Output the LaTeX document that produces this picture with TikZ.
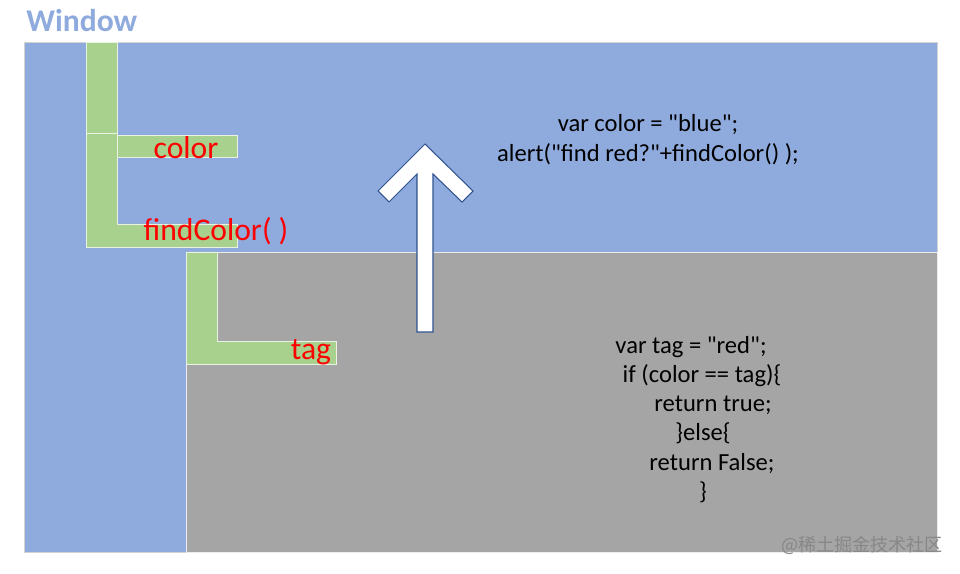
\documentclass[tikz,border=0pt]{standalone}
\usepackage{fontspec}
\setmainfont{Carlito}[Ligatures=TeXOff]
\newfontfamily\cjkfont{Noto Sans CJK SC}
\usetikzlibrary{positioning}
\definecolor{windowBlue}{RGB}{143,170,220}
\definecolor{titleBlue}{RGB}{143,170,220}
\definecolor{scopeGray}{RGB}{165,165,165}
\definecolor{treeGreen}{RGB}{169,209,142}
\definecolor{varRed}{RGB}{255,0,0}
\definecolor{arrowEdge}{RGB}{47,82,143}
\definecolor{markGray}{RGB}{135,135,135}
\tikzset{
    % Scope Areas
    scopeArea/.style={line width=0.5pt},
    windowArea/.style={scopeArea, fill=windowBlue, draw=gray!35},
    funcArea/.style={scopeArea, fill=scopeGray, draw=gray!15},
    % Scope Chain Bars
    treeBar/.style={fill=treeGreen, draw=white!75!treeGreen, line width=0.4pt},
    % Lookup Arrow
    lookupArrow/.style={fill=white, draw=arrowEdge, line width=0.6pt, line join=miter},
    % Text Styles
    titleText/.style={font=\fontsize{18}{21}\selectfont\bfseries, text=titleBlue, inner sep=0pt, anchor=base west},
    varLabel/.style={font=\fontsize{18}{21}\selectfont, text=varRed, inner sep=0pt, anchor=base},
    codeLine/.style={font=\fontsize{14}{17}\selectfont, text=black, inner sep=0pt, anchor=base},
    markText/.style={font=\cjkfont\fontsize{10.3}{12}\selectfont, text=markGray, inner sep=0pt}
}
\begin{document}
\begin{tikzpicture}[x=0.02cm, y=-0.02cm]
    \useasboundingbox (0,0) rectangle (960,574);

    % --- SCOPES ---
    \draw [windowArea] (24,42) rectangle (937,552);
    \draw [funcArea] (186,252) rectangle (937,552);

    % --- SCOPE CHAIN (Window level) ---
    \draw [treeBar] (86,42) rectangle (117,133);
    \draw [treeBar] (86,133) -- (117,133) -- (117,224) -- (237,224) -- (237,247) -- (86,247) -- cycle;
    \draw [treeBar] (117,135) rectangle (237,157);

    % --- SCOPE CHAIN (findColor level) ---
    \draw [treeBar] (186,252) -- (217,252) -- (217,341) -- (336,341) -- (336,364) -- (186,364) -- cycle;

    % --- Lookup goes up ---
    \draw [lookupArrow] (417,332) -- (417,174) -- (389,202) -- (378,191) -- (425,144)
        -- (473,191) -- (462,202) -- (433,174) -- (433,332) -- cycle;

    % --- Labels ---
    \node (title) [titleText] at (26,32) {Window};
    \node (colorVar) [varLabel] at (186,159) {color};
    \node (findFn) [varLabel] at (216,241) {findColor( )};
    \node (tagVar) [varLabel] at (311,359) {tag};

    % --- Window code ---
    \node (winLine1) [codeLine] at (648,132) {var color = "blue";};
    \node (winLine2) [codeLine] at (648,162) {alert("find red?"+findColor() );};

    % --- findColor code ---
    \node (fnLine1) [codeLine] at (691,353) {var tag = "red";};
    \node (fnLine2) [codeLine] at (702,382) {if (color == tag)\{};
    \node (fnLine3) [codeLine] at (713,411) {return true;};
    \node (fnLine4) [codeLine] at (703,440) {\}else\{};
    \node (fnLine5) [codeLine] at (712,470) {return False;};
    \node (fnLine6) [codeLine] at (703,499) {\}};

    % --- Watermark ---
    \node (mark) [markText] at (862,545) {@稀土掘金技术社区};

\end{tikzpicture}
\end{document}
